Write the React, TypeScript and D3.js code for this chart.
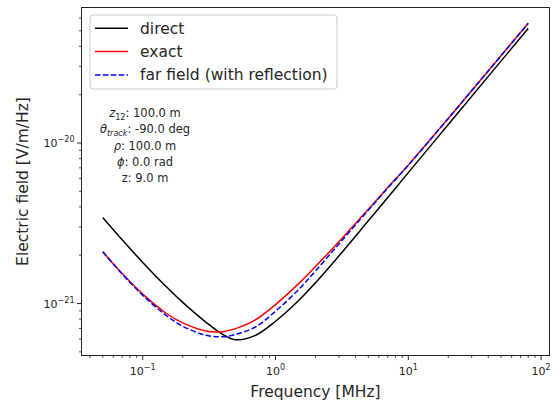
import React from 'react';
import * as d3 from 'd3';

// Frequency [MHz]
const freqs = [0.05, 0.07, 0.1, 0.15, 0.2, 0.3, 0.4, 0.5, 0.7, 1, 1.5, 2, 3, 5, 7, 10, 20, 40, 80];
// Electric field [V/m/Hz]
const direct = [3.44e-21, 2.496e-21, 1.804e-21, 1.276e-21, 1.017e-21, 7.64e-22, 6.43e-22, 5.955e-22, 6.315e-22, 7.756e-22, 1.048e-21, 1.346e-21, 1.978e-21, 3.276e-21, 4.571e-21, 6.54e-21, 1.304e-20, 2.6e-20, 5.17e-20];
const exact = [2.1e-21, 1.537e-21, 1.144e-21, 8.7e-22, 7.58e-22, 6.74e-22, 6.68e-22, 6.98e-22, 7.88e-22, 9.85e-22, 1.335e-21, 1.701e-21, 2.426e-21, 3.869e-21, 5.277e-21, 7.29e-21, 1.422e-20, 2.813e-20, 5.566e-20];
const farField = [2.1e-21, 1.526e-21, 1.125e-21, 8.43e-22, 7.217e-22, 6.34e-22, 6.207e-22, 6.43e-22, 7.115e-22, 8.954e-22, 1.228e-21, 1.595e-21, 2.35e-21, 3.814e-21, 5.24e-21, 7.27e-21, 1.422e-20, 2.813e-20, 5.566e-20];

const seriesNames = ['direct', 'exact', 'far field (with reflection)'];
const xTickExps = [-1, 0, 1, 2];
const yTickExps = [-21, -20];
const xLabel = 'Frequency [MHz]';
const yLabel = 'Electric field [V/m/Hz]';

const FONT = 'DejaVu Sans, sans-serif';
const TXT = '#262626';

function logPadDomain(vals: number[]) {
  const lo = Math.log10(d3.min(vals) as number);
  const hi = Math.log10(d3.max(vals) as number);
  const pad = (hi - lo) * 0.05;
  return [Math.pow(10, lo - pad), Math.pow(10, hi + pad)];
}

function minorTicks(domain: number[]) {
  const out: number[] = [];
  const e0 = Math.floor(Math.log10(domain[0]));
  const e1 = Math.ceil(Math.log10(domain[1]));
  for (let e = e0; e <= e1; e++) {
    for (let k = 2; k <= 9; k++) {
      const v = k * Math.pow(10, e);
      if (v >= domain[0] && v <= domain[1]) out.push(v);
    }
  }
  return out;
}

export default function App() {
  React.useEffect(() => {
    document.body.style.margin = '0';
  }, []);
  const W = 560, H = 405;
  const L = 81.5, R = 549.5, T = 7.5, B = 355.5;

  const xDom = logPadDomain(freqs);
  const yDom = logPadDomain([...direct, ...exact, ...farField]);
  const x = d3.scaleLog().domain(xDom).range([L, R]);
  const y = d3.scaleLog().domain(yDom).range([B, T]);

  const line = (vals: number[]) =>
    d3.line<number>()
      .x((_, i) => x(freqs[i]))
      .y((d) => y(d))
      .curve(d3.curveCatmullRom.alpha(0.5))(vals) as string;

  const series = [
    { vals: direct, color: '#000000', dash: undefined as string | undefined },
    { vals: exact, color: '#ff0000', dash: undefined },
    { vals: farField, color: '#0000ff', dash: '5.5,2.4' },
  ];

  const xMinor = minorTicks(xDom);
  const yMinor = minorTicks(yDom);

  const annY = [117, 133, 150, 166, 182];
  const annX = 145;
  const fs = 11.5;

  return (
    <svg width={W} height={H} style={{ position: 'absolute', left: 0, top: 0, background: '#fff' }} fontFamily={FONT}>
      <rect x={0} y={0} width={W} height={H} fill="#fff" />
      {series.map((s, i) => (
        <path key={i} d={line(s.vals)} fill="none" stroke={s.color} strokeWidth={1.5}
          strokeDasharray={s.dash} strokeLinejoin="round" />
      ))}
      <rect x={L} y={T} width={R - L} height={B - T} fill="none" stroke={TXT} strokeWidth={1} />
      {xMinor.map((v, i) => (
        <line key={'xm' + i} x1={x(v)} x2={x(v)} y1={B} y2={B + 2.5} stroke={TXT} strokeWidth={0.8} />
      ))}
      {xTickExps.map((e) => (
        <g key={'xt' + e}>
          <line x1={x(Math.pow(10, e))} x2={x(Math.pow(10, e))} y1={B} y2={B + 4.5} stroke={TXT} strokeWidth={1} />
          <text x={x(Math.pow(10, e))} y={375} textAnchor="middle" fontSize={11} fill={TXT}>
            <tspan>10</tspan>
            <tspan dy={-5} fontSize={8}>{e < 0 ? '\u2212' + Math.abs(e) : String(e)}</tspan>
          </text>
        </g>
      ))}
      {yMinor.map((v, i) => (
        <line key={'ym' + i} x1={L - 2.5} x2={L} y1={y(v)} y2={y(v)} stroke={TXT} strokeWidth={0.8} />
      ))}
      {yTickExps.map((e) => (
        <g key={'yt' + e}>
          <line x1={L - 4.5} x2={L} y1={y(Math.pow(10, e))} y2={y(Math.pow(10, e))} stroke={TXT} strokeWidth={1} />
          <text x={L - 7} y={y(Math.pow(10, e)) + 4} textAnchor="end" fontSize={11} fill={TXT}>
            <tspan>10</tspan>
            <tspan dy={-5} fontSize={8}>{e < 0 ? '\u2212' + Math.abs(e) : String(e)}</tspan>
          </text>
        </g>
      ))}
      <text x={(L + R) / 2} y={397} textAnchor="middle" fontSize={15.5} fill={TXT}>{xLabel}</text>
      <text transform={`translate(28,${(T + B) / 2}) rotate(-90)`} textAnchor="middle" fontSize={15.5} fill={TXT}>{yLabel}</text>
      <text x={annX} y={annY[0]} textAnchor="middle" fontSize={fs} fill={TXT}>
        <tspan fontStyle="italic">z</tspan>
        <tspan dy={3} fontSize={fs * 0.7}>12</tspan>
        <tspan dy={-3}>: 100.0 m</tspan>
      </text>
      <text x={annX} y={annY[1]} textAnchor="middle" fontSize={fs} fill={TXT}>
        <tspan fontStyle="italic">θ</tspan>
        <tspan dy={3} fontSize={fs * 0.7} fontStyle="italic">track</tspan>
        <tspan dy={-3}>: -90.0 deg</tspan>
      </text>
      <text x={annX} y={annY[2]} textAnchor="middle" fontSize={fs} fill={TXT}>
        <tspan fontStyle="italic">ρ</tspan>
        <tspan>: 100.0 m</tspan>
      </text>
      <text x={annX} y={annY[3]} textAnchor="middle" fontSize={fs} fill={TXT}>
        <tspan fontStyle="italic">ϕ</tspan>
        <tspan>: 0.0 rad</tspan>
      </text>
      <text x={annX} y={annY[4]} textAnchor="middle" fontSize={fs} fill={TXT}>z: 9.0 m</text>
      <rect x={90} y={15} width={247} height={74} rx={3} fill="#fff" fillOpacity={0.8} stroke="#cccccc" strokeWidth={1} />
      {series.map((s, i) => {
        const ly = 28.3 + i * 23.3;
        return (
          <g key={'lg' + i}>
            <line x1={95} x2={128} y1={ly} y2={ly} stroke={s.color} strokeWidth={1.5} strokeDasharray={s.dash} />
            <text x={140} y={ly + 5.5} fontSize={15.5} fill={TXT}>{seriesNames[i]}</text>
          </g>
        );
      })}
    </svg>
  );
}
